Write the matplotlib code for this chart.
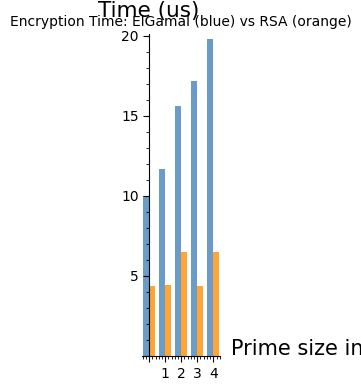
import matplotlib
matplotlib.use("Agg")
import matplotlib.pyplot as plt
from matplotlib.ticker import MultipleLocator, FixedLocator

# Encryption times
prime_idx = [0, 1, 2, 3, 4]
elgamal_us = [10.0, 11.65, 15.6, 17.2, 19.8]
rsa_us = [4.33, 4.4, 6.5, 4.33, 6.5]
y_ticks = [5, 10, 15, 20]
x_ticks = [1, 2, 3, 4]

BLUE = "#6b9bc7"
ORANGE = "#ffa535"
width = 0.37

fig = plt.figure(figsize=(3.61, 3.89), dpi=100)
ax = fig.add_axes([0.3935, 0.086, 0.216, 0.826])

ax.bar([i - width / 2 for i in prime_idx], elgamal_us, width, color=BLUE)
ax.bar([i + width / 2 for i in prime_idx], rsa_us, width, color=ORANGE)

ax.set_xlim(-0.45, 4.42)
ax.set_ylim(0, 20.1)

# sage-like axes: only the two lines through the origin
for side in ("top", "right"):
    ax.spines[side].set_visible(False)
ax.spines["left"].set_position(("data", 0))
ax.spines["bottom"].set_position(("data", 0))

ax.xaxis.set_major_locator(FixedLocator([0] + x_ticks))
ax.set_xticklabels([""] + [str(t) for t in x_ticks])
ax.xaxis.set_minor_locator(MultipleLocator(0.2))
ax.yaxis.set_major_locator(FixedLocator(y_ticks))
ax.yaxis.set_minor_locator(MultipleLocator(1))
ax.tick_params(which="major", length=4, labelsize=10)
ax.tick_params(which="minor", length=2)
ax.tick_params(axis="x", which="major", pad=4)

ax.set_title("Encryption Time: ElGamal (blue) vs RSA (orange)", fontsize=10, pad=6)
fig.text(0.413, 0.973, "Time (us)", fontsize=15.5, ha="center", va="center")
fig.text(0.64, 0.104, "Prime size in bits", fontsize=15, ha="left", va="center")

fig.savefig("out.png", dpi=100)
